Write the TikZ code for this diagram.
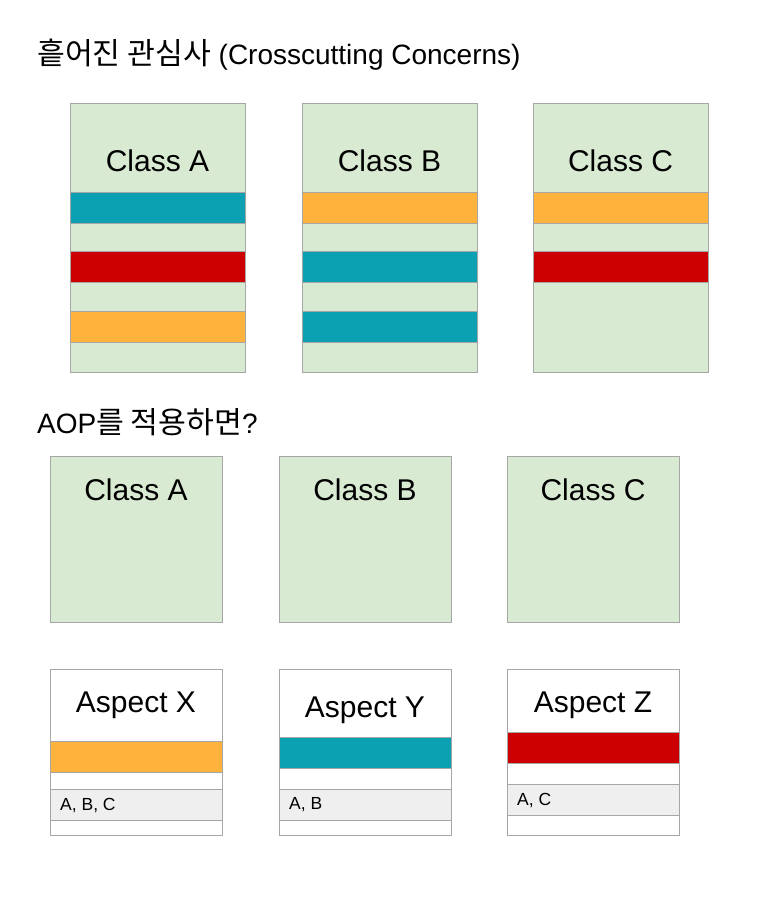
\documentclass[tikz,border=0pt]{standalone}
\usepackage{fontspec}
\setmainfont{Liberation Sans}
\newfontfamily\kr[Scale=1.08]{Noto Sans CJK KR}
\usetikzlibrary{positioning}
\definecolor{classgreen}{HTML}{D9EAD3}
\definecolor{cyanbar}{HTML}{0BA0B2}
\definecolor{orangebar}{HTML}{FFB23C}
\definecolor{redbar}{HTML}{CC0000}
\definecolor{greyrow}{HTML}{EFEFEF}
\definecolor{edge}{HTML}{A6A6A6}
\tikzstyle{title} = [anchor=west, inner sep=0pt, font=\fontsize{28}{34}\selectfont]
\tikzstyle{tallclass} = [rectangle, anchor=north west, inner sep=0pt, minimum width=175pt, minimum height=269pt, draw=edge, fill=classgreen]
\tikzstyle{smallclass} = [rectangle, anchor=north west, inner sep=0pt, minimum width=172pt, minimum height=166pt, draw=edge, fill=classgreen]
\tikzstyle{aspect} = [rectangle, anchor=north west, inner sep=0pt, minimum width=172pt, minimum height=166pt, draw=edge, fill=white]
\tikzstyle{bar} = [rectangle, anchor=north west, inner sep=0pt, minimum height=31pt, draw=edge]
\tikzstyle{label} = [font=\fontsize{30}{36}\selectfont]
\tikzstyle{uses} = [anchor=west, inner sep=0pt, font=\fontsize{17.5}{21}\selectfont]

\begin{document}
\begin{tikzpicture}[x=1pt, y=1pt, yscale=-1]
\useasboundingbox (0,0) rectangle (775,907);

\node at (37, 55) (crosstitle) [title] {{\kr 흩어진 관심사} (Crosscutting Concerns)};

% classes with scattered concerns
\node at (70, 103) (classA) [tallclass] {};
\node at (302, 103) (classB) [tallclass] {};
\node at (533, 103) (classC) [tallclass] {};

\node at (157.5, 161) (labelA) [label] {Class A};
\node at (389.5, 161) (labelB) [label] {Class B};
\node at (620.5, 161) (labelC) [label] {Class C};

\node at (70, 192) (barA1) [bar, minimum width=175pt, fill=cyanbar] {};
\node at (70, 251) (barA2) [bar, minimum width=175pt, fill=redbar] {};
\node at (70, 311) (barA3) [bar, minimum width=175pt, fill=orangebar] {};

\node at (302, 192) (barB1) [bar, minimum width=175pt, fill=orangebar] {};
\node at (302, 251) (barB2) [bar, minimum width=175pt, fill=cyanbar] {};
\node at (302, 311) (barB3) [bar, minimum width=175pt, fill=cyanbar] {};

\node at (533, 192) (barC1) [bar, minimum width=175pt, fill=orangebar] {};
\node at (533, 251) (barC2) [bar, minimum width=175pt, fill=redbar] {};

\node at (37, 422) (aoptitle) [title] {AOP{\kr 를 적용하면}?};

% classes after AOP
\node at (50, 456) (plainA) [smallclass] {};
\node at (279, 456) (plainB) [smallclass] {};
\node at (507, 456) (plainC) [smallclass] {};

\node at (136, 490) (plainlabelA) [label] {Class A};
\node at (365, 490) (plainlabelB) [label] {Class B};
\node at (593, 490) (plainlabelC) [label] {Class C};

% aspects
\node at (50, 669) (aspectX) [aspect] {};
\node at (279, 669) (aspectY) [aspect] {};
\node at (507, 669) (aspectZ) [aspect] {};

\node at (136, 705) (aspectlabelX) [label] {Aspect X};
\node at (365, 710) (aspectlabelY) [label] {Aspect Y};
\node at (593, 705) (aspectlabelZ) [label] {Aspect Z};

\node at (50, 741) (barX) [bar, minimum width=172pt, fill=orangebar] {};
\node at (279, 737) (barY) [bar, minimum width=172pt, fill=cyanbar] {};
\node at (507, 732) (barZ) [bar, minimum width=172pt, fill=redbar] {};

\node at (50, 789) (rowX) [bar, minimum width=172pt, fill=greyrow] {};
\node at (279, 789) (rowY) [bar, minimum width=172pt, fill=greyrow] {};
\node at (507, 784) (rowZ) [bar, minimum width=172pt, fill=greyrow] {};

\node at (60, 805) (usesX) [uses] {A, B, C};
\node at (289, 805) (usesY) [uses] {A, B};
\node at (517, 800) (usesZ) [uses] {A, C};

\end{tikzpicture}
\end{document}
